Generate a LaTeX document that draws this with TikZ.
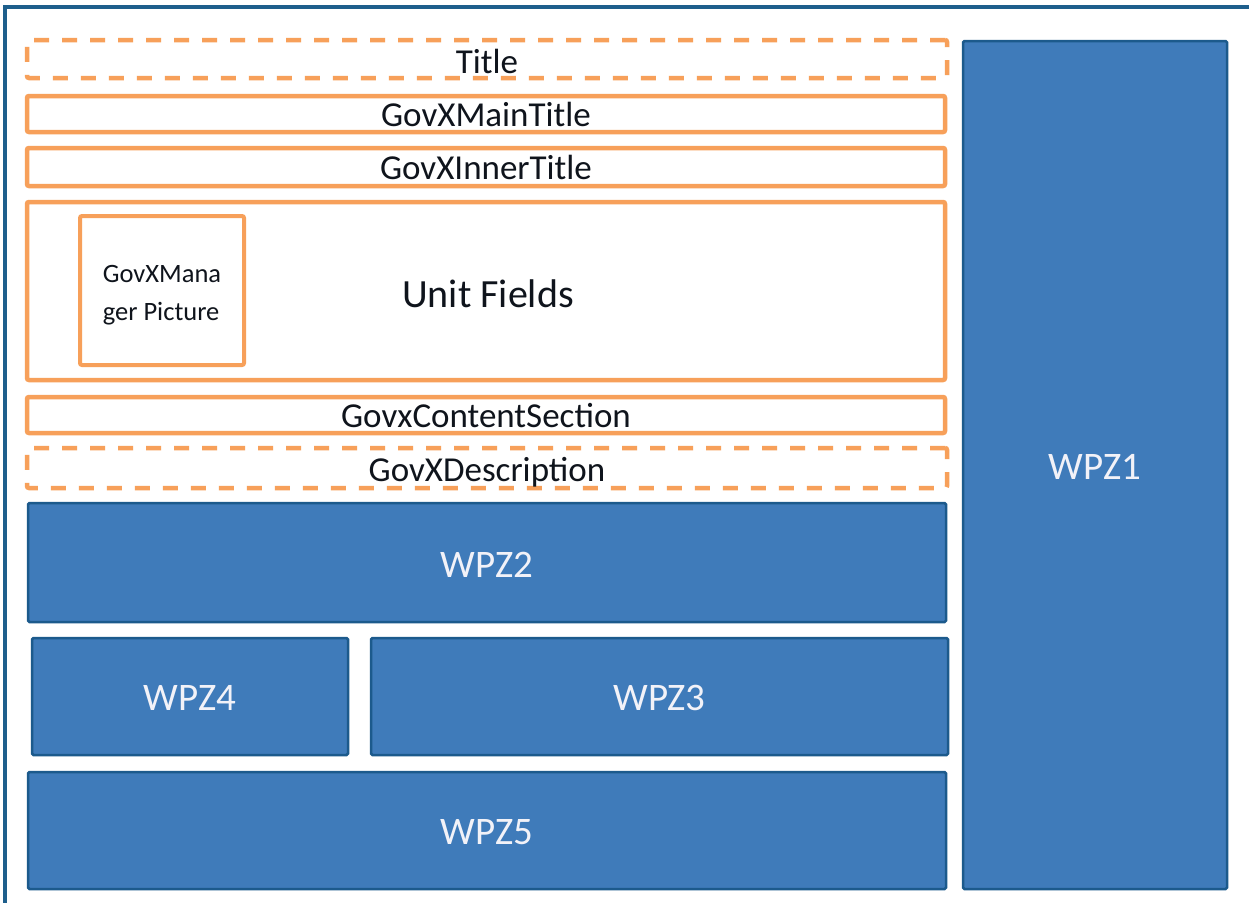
\documentclass[tikz,border=0pt]{standalone}
\usepackage{fontspec}
\setmainfont{Carlito}
\definecolor{frameblue}{RGB}{30,95,140}
\definecolor{boxblue}{RGB}{63,123,186}
\definecolor{edgeblue}{RGB}{28,90,140}
\definecolor{orng}{RGB}{247,160,90}
\definecolor{txt}{RGB}{15,20,28}
\definecolor{wtxt}{RGB}{242,242,248}
\begin{document}
\begin{tikzpicture}[x=1pt,y=-1pt,
  obox/.style={draw=orng, line width=4.5pt, rounded corners=2pt, inner sep=1pt, text=txt, font=\fontsize{35}{37}\selectfont, text height=24pt, text depth=0pt},
  dbox/.style={obox, dash pattern=on 15pt off 13pt},
  bbox/.style={draw=edgeblue, fill=boxblue, line width=2.5pt, rounded corners=1.5pt, text=wtxt, font=\fontsize{39}{41}\selectfont, text height=29pt, text depth=0pt}]
\useasboundingbox (0,0) rectangle (1249,902);
\fill[white] (0,0) rectangle (1249,902);
\draw[frameblue, line width=4pt] (5,904) -- (5,7) -- (1251,7);
% orange boxes
\node[dbox, text height=28pt, minimum width=920pt, minimum height=38pt] (title) at (487,59) {Title};
\node[obox, minimum width=918pt, minimum height=36pt] (main) at (486,114) {GovXMainTitle};
\node[obox, minimum width=918pt, minimum height=38pt] (inner) at (486,167) {GovXInnerTitle};
\node[obox, minimum width=918pt, minimum height=178pt] (unit) at (486,291) {};
\node[text=txt, font=\fontsize{40}{42}\selectfont, inner sep=0pt] (unitlbl) at (488,294) {Unit Fields};
\node[obox, line width=4pt, minimum width=164pt, minimum height=149pt] (mgr) at (162,290.5) {};
\node[text=txt, align=left, font=\fontsize{26.5}{38}\selectfont, inner sep=0pt] (mgrlbl) at (162,295) {GovXMana\\ger Picture};
\node[obox, minimum width=918pt, minimum height=36pt] (content) at (486,415) {GovxContentSection};
\node[dbox, text height=26pt, minimum width=920pt, minimum height=40pt] (desc) at (487,468) {GovXDescription};
% blue boxes
\node[bbox, text height=30pt, minimum width=918pt, minimum height=119pt] (wpz2) at (487,562.5) {WPZ2};
\node[bbox, text height=28pt, minimum width=316pt, minimum height=117pt] (wpz4) at (190,696.5) {WPZ4};
\node[bbox, text height=28pt, minimum width=577pt, minimum height=117pt] (wpz3) at (659.5,696.5) {WPZ3};
\node[bbox, text height=28pt, minimum width=918pt, minimum height=117pt] (wpz5) at (487,830.5) {WPZ5};
\node[bbox, minimum width=264pt, minimum height=848pt] (wpz1) at (1095,465) {WPZ1};
\end{tikzpicture}
\end{document}
